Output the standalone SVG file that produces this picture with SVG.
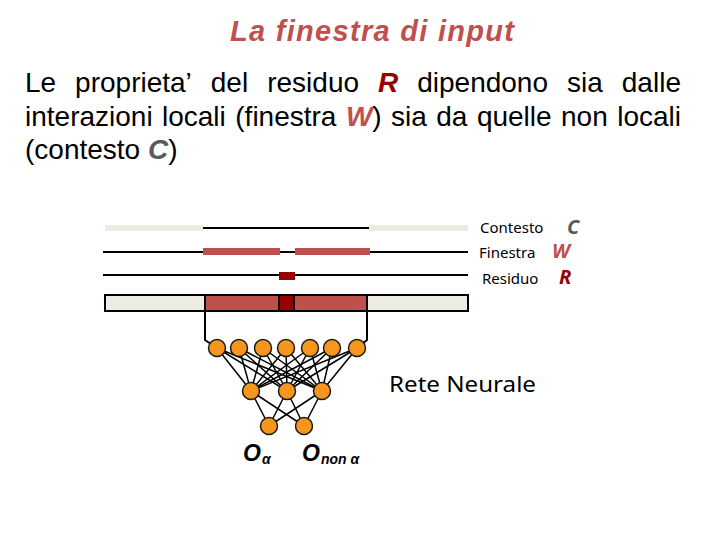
<svg xmlns="http://www.w3.org/2000/svg" width="720" height="540" viewBox="0 0 720 540">
<style>
.body{font-family:"Liberation Sans",Arial,sans-serif;font-size:28px;fill:#000}
.bi{font-weight:bold;font-style:italic}
.leg{font-family:"Noto Sans","Open Sans",sans-serif;font-size:15px;fill:#000}
.legL{font-family:"Noto Sans","Open Sans",sans-serif;font-size:20px;font-weight:bold;font-style:italic}
.ln{stroke:#000;stroke-width:2;fill:none}
.beige{fill:#eeece1}
.red{fill:#c0504d}
.dred{fill:#990000}
.node{fill:#f7961e;stroke:#1a1a1a;stroke-width:1.5}
.edge{stroke:#000;stroke-width:1.5;fill:none}
.olab{font-family:"Liberation Sans",Arial,sans-serif;font-weight:bold;font-style:italic;fill:#000}
</style>
<rect width="720" height="540" fill="#fff"/>
<text x="230" y="41" textLength="284" lengthAdjust="spacing" font-family="Liberation Sans, Arial, sans-serif" font-size="29" font-weight="bold" font-style="italic" fill="#c0504d">La finestra di input</text>
<text class="body" y="92"><tspan x="25">Le</tspan><tspan x="75.1">proprieta’</tspan><tspan x="210.8">del</tspan><tspan x="267.2">residuo</tspan><tspan x="378" class="bi" fill="#990000">R</tspan><tspan x="417.2">dipendono</tspan><tspan x="567">sia</tspan><tspan x="621.8">dalle</tspan></text>
<text class="body" y="126"><tspan x="25">interazioni</tspan><tspan x="162">locali</tspan><tspan x="235.3">(finestra</tspan><tspan x="345.9" class="bi" fill="#c0504d">W</tspan><tspan>)</tspan><tspan x="391.1">sia</tspan><tspan x="436.3">da</tspan><tspan x="476.9">quelle</tspan><tspan x="561">non</tspan><tspan x="617.2">locali</tspan></text>
<text class="body" y="159" x="25">(contesto <tspan class="bi" fill="#595959">C</tspan>)</text>
<g id="context-row">
<rect class="beige" x="105" y="225" width="98" height="6"/>
<line class="ln" x1="203" y1="228" x2="369" y2="228"/>
<rect class="beige" x="369" y="225" width="99" height="6"/>
</g>
<g id="window-row">
<line class="ln" x1="103" y1="252" x2="468" y2="252"/>
<rect class="red" x="203" y="248" width="77" height="7"/>
<rect class="red" x="295" y="248" width="75" height="7"/>
</g>
<g id="residue-row">
<line class="ln" x1="103" y1="275" x2="468" y2="275"/>
<rect class="dred" x="279" y="272" width="16" height="8"/>
</g>
<g id="sequence-bar">
<rect class="beige" x="105" y="295" width="363" height="16" stroke="#000" stroke-width="2"/>
<rect class="red" x="205" y="295" width="73" height="16"/>
<rect class="red" x="295" y="295" width="72" height="16"/>
<rect class="dred" x="279" y="295" width="15" height="16" stroke="#000" stroke-width="2"/>
<line class="ln" x1="205" y1="295" x2="205" y2="311"/>
<line class="ln" x1="367" y1="295" x2="367" y2="311"/>
<rect x="105" y="295" width="363" height="16" fill="none" stroke="#000" stroke-width="2"/>
</g>
<g id="legend">
<text class="leg" x="480" y="233">Contesto</text>
<text class="leg" x="479" y="258">Finestra</text>
<text class="leg" x="482" y="284">Residuo</text>
<text class="legL" x="567" y="234" fill="#595959">C</text>
<text class="legL" x="552" y="258" fill="#c0504d">W</text>
<text class="legL" x="559" y="284" fill="#990000">R</text>
</g>
<g id="connectors">
<polyline class="ln" points="205,311 205,340 217,348"/>
<polyline class="ln" points="367,311 367,340 357,348"/>
<g class="edge">
<path d="M217,348L251,391M217,348L287,391M217,348L322,391"/>
<path d="M239,348L251,391M239,348L287,391M239,348L322,391"/>
<path d="M263,348L251,391M263,348L287,391M263,348L322,391"/>
<path d="M286,348L251,391M286,348L287,391M286,348L322,391"/>
<path d="M310,348L251,391M310,348L287,391M310,348L322,391"/>
<path d="M332,348L251,391M332,348L287,391M332,348L322,391"/>
<path d="M357,348L251,391M357,348L287,391M357,348L322,391"/>
<path d="M251,391L269,426M251,391L304,426M287,391L269,426M287,391L304,426M322,391L269,426M322,391L304,426"/>
</g>
</g>
<g id="input-nodes">
<circle class="node" cx="217" cy="348" r="8.5"/>
<circle class="node" cx="239" cy="348" r="8.5"/>
<circle class="node" cx="263" cy="348" r="8.5"/>
<circle class="node" cx="286" cy="348" r="8.5"/>
<circle class="node" cx="310" cy="348" r="8.5"/>
<circle class="node" cx="332" cy="348" r="8.5"/>
<circle class="node" cx="357" cy="348" r="8.5"/>
</g>
<g id="hidden-nodes">
<circle class="node" cx="251" cy="391" r="8.5"/>
<circle class="node" cx="287" cy="391" r="8.5"/>
<circle class="node" cx="322" cy="391" r="8.5"/>
</g>
<g id="output-nodes">
<circle class="node" cx="269" cy="426" r="8.5"/>
<circle class="node" cx="304" cy="426" r="8.5"/>
</g>
<g id="network-label">
<text x="389" y="392" font-family="Noto Sans, Open Sans, sans-serif" font-size="22" textLength="147" lengthAdjust="spacingAndGlyphs">Rete Neurale</text>
</g>
<g id="output-labels">
<text class="olab" x="243" y="461" font-size="23">O<tspan font-size="14" dx="1" dy="3">α</tspan></text>
<text class="olab" x="302" y="461" font-size="23">O<tspan font-size="14" dx="1" dy="3">non α</tspan></text>
</g>
</svg>
